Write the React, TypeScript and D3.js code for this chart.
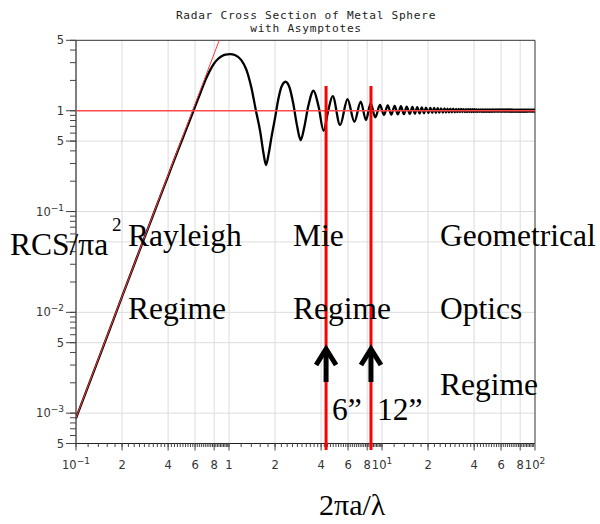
import React from 'react';
import * as d3 from 'd3';

// normalised backscatter RCS of a metal sphere (ka -> sigma / pi a^2)
const curveKa = [0.1, 0.15, 0.2, 0.25, 0.3, 0.35, 0.4, 0.45, 0.5, 0.55,
  0.6, 0.65, 0.7, 0.75, 0.8, 0.85, 0.9, 0.95, 1.015, 1.1,
  1.2, 1.3, 1.4, 1.5, 1.6, 1.68, 1.745, 1.82, 1.9, 2.0,
  2.1, 2.2, 2.34, 2.48, 2.63, 2.78, 2.94, 3.1, 3.3, 3.57,
  3.85, 4.15, 4.45, 4.76, 5.32, 5.95, 6.6, 7.26, 7.86, 8.43,
  9.04, 9.7];
const curveRcs = [0.00089, 0.0045, 0.0143, 0.035, 0.072, 0.133, 0.225, 0.36, 0.54, 0.78,
  1.1, 1.5, 2.0, 2.5, 2.95, 3.28, 3.5, 3.61, 3.65, 3.55,
  3.2, 2.55, 1.7, 1.0, 0.62, 0.38, 0.289, 0.38, 0.56, 0.85,
  1.3, 1.72, 1.94, 1.72, 1.18, 0.72, 0.512, 0.68, 1.12, 1.58,
  1.1, 0.633, 1.0, 1.4, 0.721, 1.3, 0.778, 1.23, 0.809, 1.18,
  0.86, 1.14];

// optics-region ripple: troughs and peaks past ka = 10
const tailKa = [10.3, 10.9, 11.5, 12.1, 12.7, 13.3, 13.9, 14.5, 15.2, 15.8,
  16.4, 17, 17.6, 18.2, 18.8, 19.4, 20.1, 20.7, 21.3, 21.9,
  22.5, 23.1, 23.7, 24.3, 25, 25.6, 26.2, 26.8, 27.4, 28,
  28.6, 29.2, 29.9, 30.5, 31.1, 31.7, 32.3, 32.9, 33.5, 34.1,
  34.8, 35.4, 36, 36.6, 37.2, 37.8, 38.4, 39, 39.7, 40.3,
  40.9, 41.5, 42.1, 42.7, 43.3, 43.9, 44.6, 45.2, 45.8, 46.4,
  47, 47.6, 48.2, 48.8, 49.5, 50.1, 50.7, 51.3, 51.9, 52.5,
  53.1, 53.7, 54.4, 55, 55.6, 56.2, 56.8, 57.4, 58, 58.6,
  59.3, 59.9, 60.5, 61.1, 61.7, 62.3, 62.9, 63.5, 64.2, 64.8,
  65.4, 66, 66.6, 67.2, 67.8, 68.4, 69.1, 69.7, 70.3, 70.9,
  71.5, 72.1, 72.7, 73.3, 74, 74.6, 75.2, 75.8, 76.4, 77,
  77.6, 78.2, 78.9, 79.5, 80.1, 80.7, 81.3, 81.9, 82.5, 83.1,
  83.8, 84.4, 85, 85.6, 86.2, 86.8, 87.4, 88, 88.7, 89.3,
  89.9, 90.5, 91.1, 91.7, 92.3, 92.9, 93.6, 94.2, 94.8, 95.4,
  96, 96.6, 97.2, 97.8, 98.5, 99.1, 99.7, 100];
const tailRcs = [0.91, 1.13, 0.915, 1.12, 0.92, 1.11, 0.925, 1.1, 0.93, 1.09,
  0.935, 1.085, 0.94, 1.08, 0.945, 1.075, 0.95, 1.07, 0.952, 1.066,
  0.955, 1.062, 0.958, 1.058, 0.96, 1.055, 0.962, 1.052, 0.964, 1.05,
  0.966, 1.048, 0.967, 1.046, 0.968, 1.044, 0.969, 1.042, 0.97, 1.04,
  0.972, 1.037, 0.972, 1.037, 0.972, 1.037, 0.972, 1.037, 0.972, 1.037,
  0.974, 1.034, 0.974, 1.034, 0.974, 1.034, 0.974, 1.034, 0.974, 1.034,
  0.974, 1.034, 0.974, 1.034, 0.974, 1.034, 0.974, 1.034, 0.974, 1.034,
  0.976, 1.031, 0.976, 1.031, 0.976, 1.031, 0.976, 1.031, 0.976, 1.031,
  0.976, 1.031, 0.976, 1.031, 0.976, 1.031, 0.976, 1.031, 0.976, 1.031,
  0.976, 1.031, 0.976, 1.031, 0.976, 1.031, 0.976, 1.031, 0.976, 1.031,
  0.978, 1.028, 0.978, 1.028, 0.978, 1.028, 0.978, 1.028, 0.978, 1.028,
  0.978, 1.028, 0.978, 1.028, 0.978, 1.028, 0.978, 1.028, 0.978, 1.028,
  0.978, 1.028, 0.978, 1.028, 0.978, 1.028, 0.978, 1.028, 0.978, 1.028,
  0.98, 1.025, 0.98, 1.025, 0.98, 1.025, 0.98, 1.025, 0.98, 1.025,
  0.98, 1.025, 0.98, 1.025, 0.98, 1.025, 0.98, 1.0];

// asymptotes
const rayleighKa = [0.1, 0.87];
const rayleighRcs = [0.0009, 5.16];
const opticsRcs = 1;

// sphere sizes marked on the ka axis
const markerKa = [4.31, 8.47];
const markerText = ['6\u201D', '12\u201D'];

// axes
const xGridVals = [0.2, 0.4, 0.6, 0.8, 1, 2, 4, 6, 8, 10, 20, 40, 60, 80];
const xLabelVals = [0.1, 0.2, 0.4, 0.6, 0.8, 1, 2, 4, 6, 8, 10, 20, 40, 60, 80, 100];
const xLabelText = [['10', '\u22121'], ['2'], ['4'], ['6'], ['8'], ['1'], ['2'], ['4'], ['6'], ['8'],
  ['10', '1'], ['2'], ['4'], ['6'], ['8'], ['10', '2']];
const yGridVals = [0.001, 0.005, 0.01, 0.05, 0.1, 0.5];
const yMajorVals = [0.0005, 0.001, 0.005, 0.01, 0.05, 0.1, 0.5, 1, 5];
const yLabelVals = [5, 1, 0.5, 0.1, 0.01, 0.005, 0.001, 0.0005];
const yLabelText = [['5'], ['1'], ['5'], ['10', '\u22121'], ['10', '\u22122'], ['5'], ['10', '\u22123'], ['5']];

const serif = "'Liberation Serif', 'Times New Roman', serif";
const tickFont = "'DejaVu Sans', sans-serif";

function Label({ parts }: { parts: string[] }) {
  return (
    <>
      {parts[0]}
      {parts[1] && <tspan dy={-5} fontSize={9}>{parts[1]}</tspan>}
    </>
  );
}

export default function App() {
  const x = d3.scaleLog().domain([0.1, 100]).range([76, 535]);
  const y = d3.scaleLog().domain([5e-4, 5]).range([443.5, 40.3]);
  const [x0, x1] = x.range();
  const [y0, y1] = y.range();

  const allKa = curveKa.concat(tailKa);
  const allRcs = curveRcs.concat(tailRcs);
  const pts: [number, number][] = allKa.map((k, i) => [k, allRcs[i]]);
  const line = d3.line<[number, number]>()
    .x(d => x(d[0]))
    .y(d => y(d[1]))
    .curve(d3.curveMonotoneX);
  const straight = d3.line<[number, number]>().x(d => x(d[0])).y(d => y(d[1]));
  const rayleigh: [number, number][] = rayleighKa.map((k, i) => [k, rayleighRcs[i]]);

  const xMinor: number[] = [];
  [0.1, 1, 10].forEach(dec => d3.range(10, 100, 2).forEach(m => xMinor.push(dec * m / 10)));
  const yMinor: number[] = [];
  [1e-4, 1e-3, 1e-2, 1e-1, 1].forEach(dec => d3.range(1, 10).forEach(m => {
    const v = m * dec;
    if (v >= 5e-4 * 0.999 && v <= 5.001) yMinor.push(v);
  }));

  return (
    <svg width={600} height={524} style={{ position: 'absolute', left: 0, top: 0, background: '#fff' }}>
      <defs>
        <clipPath id="plot">
          <rect x={x0} y={y1} width={x1 - x0} height={y0 - y1} />
        </clipPath>
      </defs>

      <g fontFamily="'DejaVu Sans Mono', monospace" fontSize={11.2} letterSpacing={0.7} fill="#222" textAnchor="middle">
        <text x={306} y={18.5}>Radar Cross Section of Metal Sphere</text>
        <text x={306} y={32}>with Asymptotes</text>
      </g>

      {/* grid */}
      <g stroke="#dcdcdc" strokeWidth={1}>
        {xGridVals.map(v => <line key={'gx' + v} x1={x(v)} x2={x(v)} y1={y1} y2={y0} />)}
        {yGridVals.map(v => <line key={'gy' + v} x1={x0} x2={x1} y1={y(v)} y2={y(v)} />)}
      </g>

      {/* frame */}
      <path d={`M${x0},${y1}H${x1}V${y0}`} fill="none" stroke="#333" strokeWidth={1} />
      <line x1={x0} x2={x0} y1={y1} y2={y0} stroke="#555" strokeWidth={1.5} />
      <line x1={x0} x2={x1} y1={y0} y2={y0} stroke="#222" strokeWidth={1.2} />

      {/* ticks */}
      <g stroke="#444" strokeWidth={1}>
        {xMinor.map((v, i) => <line key={'xm' + i} x1={x(v)} x2={x(v)} y1={y0} y2={y0 + 3.5} />)}
        {xLabelVals.map(v => <line key={'xM' + v} x1={x(v)} x2={x(v)} y1={y0} y2={y0 + 7} />)}
        {yMinor.map((v, i) => <line key={'ym' + i} x1={x0 - 6} x2={x0} y1={y(v)} y2={y(v)} />)}
        {yMajorVals.map(v => <line key={'yM' + v} x1={x0 - 10} x2={x0} y1={y(v)} y2={y(v)} />)}
      </g>
      <g fontFamily={tickFont} fontSize={11.5} fill="#333">
        {xLabelVals.map((v, i) => (
          <text key={'xl' + v} x={x(v)} y={469} textAnchor="middle"><Label parts={xLabelText[i]} /></text>
        ))}
        {yLabelVals.map((v, i) => (
          <text key={'yl' + v} x={x0 - 12} y={y(v) + 4} textAnchor="end"><Label parts={yLabelText[i]} /></text>
        ))}
      </g>

      {/* curve and asymptotes */}
      <g clipPath="url(#plot)">
        <path d={line(pts) || ''} fill="none" stroke="#000" strokeWidth={2.3} strokeLinejoin="round" />
        <path d={straight(rayleigh) || ''} fill="none" stroke="#ff3b3b" strokeWidth={1} />
        <line x1={x0} x2={x1} y1={y(opticsRcs)} y2={y(opticsRcs)} stroke="#ff4a4a" strokeWidth={1.4} />
      </g>

      {/* sphere markers */}
      {markerKa.map((k, i) => (
        <g key={'mk' + i}>
          <line x1={x(k)} x2={x(k)} y1={86} y2={450} stroke="#ff0000" strokeWidth={3} />
          <line x1={x(k)} x2={x(k)} y1={350} y2={382} stroke="#000" strokeWidth={5} />
          <polyline points={`${x(k) - 10},${365} ${x(k)},${349} ${x(k) + 10},${365}`} fill="none"
            stroke="#000" strokeWidth={5} strokeLinejoin="miter" strokeLinecap="butt" />
          <text x={x(k) + 6} y={420} fontFamily={serif} fontSize={31.5} fill="#000">{markerText[i]}</text>
        </g>
      ))}

      {/* annotations */}
      <g fontFamily={serif} fontSize={31.5} fill="#000">
        <text x={10} y={255}>RCS/πa</text>
        <text x={112} y={231} fontSize={19}>2</text>
        <text x={128} y={246}>Rayleigh</text>
        <text x={128} y={319}>Regime</text>
        <text x={293} y={246}>Mie</text>
        <text x={293} y={319}>Regime</text>
        <text x={440} y={246}>Geometrical</text>
        <text x={440} y={319}>Optics</text>
        <text x={440} y={395}>Regime</text>
        <text x={319} y={515} fontSize={30}>2πa/λ</text>
      </g>
    </svg>
  );
}
